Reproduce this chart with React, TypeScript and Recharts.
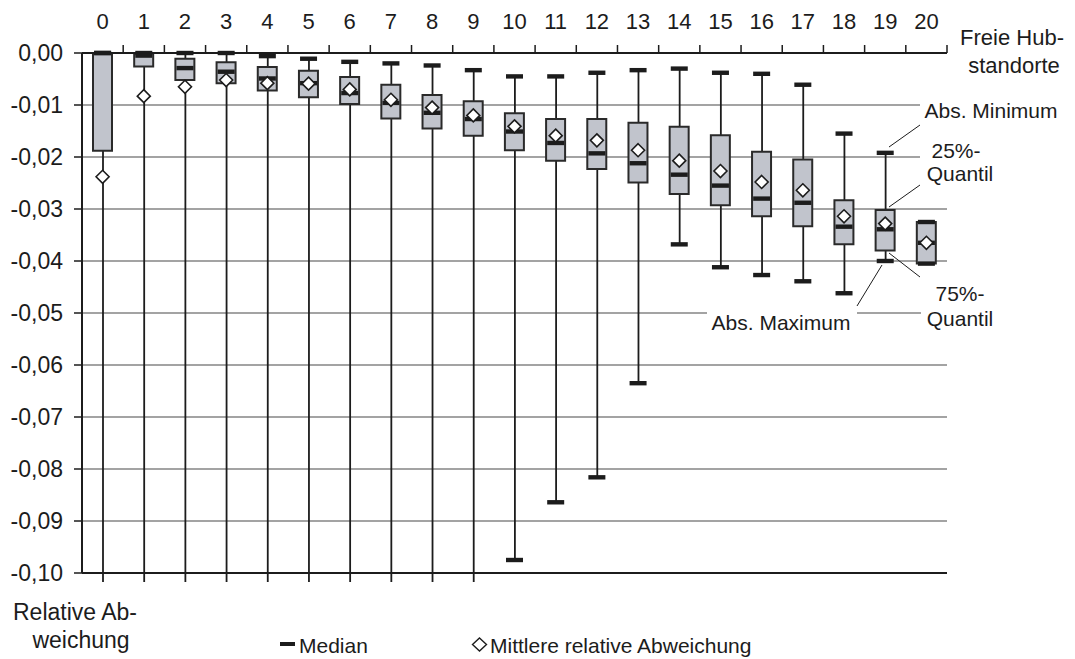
import React from "react";
import {
  ComposedChart,
  Bar,
  Line,
  XAxis,
  YAxis,
  CartesianGrid,
  ReferenceLine,
} from "recharts";

// number of free hub locations
const categories = [
  "0", "1", "2", "3", "4", "5", "6", "7", "8", "9", "10",
  "11", "12", "13", "14", "15", "16", "17", "18", "19", "20",
];

// relative deviation: closest to zero ("Abs. Minimum")
const absMinimum = [
  0, 0, 0, 0, -0.0006, -0.0011, -0.0017, -0.002, -0.0024, -0.0033, -0.0045,
  -0.0045, -0.0038, -0.0033, -0.003, -0.0038, -0.004, -0.0061, -0.0155, -0.0192, -0.0325,
];
const quantil25 = [
  0, 0, -0.0011, -0.0018, -0.0027, -0.0034, -0.0046, -0.0061, -0.0081, -0.0093, -0.0116,
  -0.0127, -0.0127, -0.0134, -0.0142, -0.0158, -0.019, -0.0205, -0.0283, -0.0302, -0.0325,
];
const median = [
  0, -0.0005, -0.0029, -0.0036, -0.0049, -0.0058, -0.0077, -0.0096, -0.0115, -0.0127, -0.0151,
  -0.0173, -0.0193, -0.0212, -0.0234, -0.0255, -0.028, -0.0288, -0.0334, -0.0339, -0.0365,
];
const quantil75 = [
  -0.0188, -0.0026, -0.0052, -0.0058, -0.0072, -0.0085, -0.0098, -0.0126, -0.0145, -0.0159, -0.0187,
  -0.0207, -0.0223, -0.0249, -0.0271, -0.0293, -0.0314, -0.0333, -0.0368, -0.038, -0.0405,
];
// null = below the axis range (whisker runs off the bottom)
const absMaximum: (number | null)[] = [
  null, null, null, null, null, null, null, null, null, null, -0.0975,
  -0.0864, -0.0816, -0.0635, -0.0368, -0.0412, -0.0427, -0.0439, -0.0462, -0.04, -0.0405,
];
const meanDeviation = [
  -0.0238, -0.0083, -0.0065, -0.0052, -0.0058, -0.0059, -0.007, -0.009, -0.0105, -0.012, -0.0141,
  -0.0159, -0.0168, -0.0187, -0.0207, -0.0227, -0.0248, -0.0264, -0.0314, -0.0328, -0.0365,
];

const yTicks = [0, -0.01, -0.02, -0.03, -0.04, -0.05, -0.06, -0.07, -0.08, -0.09, -0.1];
const Y_MIN = -0.1;

const WIDTH = 1075;
const HEIGHT = 659;
const MARGIN = { top: 1, right: 128, bottom: 86, left: 0 };
const Y_AXIS_WIDTH = 82;
const BAND = (WIDTH - MARGIN.left - MARGIN.right - Y_AXIS_WIDTH) / categories.length;
const FONT = '"Liberation Sans", Arial, Helvetica, sans-serif';
const INK = "#1c1c1c";
const GRID = "#858585";
const BOX_FILL = "#c1c4cc";

const data = categories.map((name, i) => ({
  name,
  absMin: absMinimum[i],
  absMax: absMaximum[i],
  median: median[i],
  mean: meanDeviation[i],
  box: [quantil75[i], quantil25[i]],
  whisker: [absMaximum[i] ?? Y_MIN, absMinimum[i]],
  clipped: absMaximum[i] == null,
}));

const fmt = (v: number) => v.toFixed(2).replace(".", ",");

function TopTick({ x, y, payload }: any) {
  const edge = x + BAND / 2;
  return (
    <g>
      <text x={x} y={y - 24} textAnchor="middle" fontSize={22} fill={INK} fontFamily={FONT}>
        {payload.value}
      </text>
      <line x1={edge} x2={edge} y1={y} y2={y - 8} stroke={INK} strokeWidth={1.5} />
    </g>
  );
}

function Whisker(props: any) {
  const { x, y, width, height, payload } = props;
  const cx = x + width / 2;
  const extra = payload.clipped ? 9 : 0;
  return <line x1={cx} x2={cx} y1={y} y2={y + height + extra} stroke={INK} strokeWidth={1.8} />;
}

const capDot = (p: any) =>
  p.cy == null ? (
    <g key={p.key} />
  ) : (
    <rect key={p.key} x={p.cx - 8.5} y={p.cy - 2.2} width={17} height={4.4} fill={INK} />
  );

const meanDot = (p: any) =>
  p.cy == null ? (
    <g key={p.key} />
  ) : (
    <polygon
      key={p.key}
      points={`${p.cx},${p.cy - 6.5} ${p.cx + 6.5},${p.cy} ${p.cx},${p.cy + 6.5} ${p.cx - 6.5},${p.cy}`}
      fill="#fff"
      stroke={INK}
      strokeWidth={1.6}
    />
  );

const txt = { fontFamily: FONT, fontSize: 21, fill: INK };
const title = { ...txt, fontSize: 23 };

export default function App() {
  return (
    <div style={{ position: "relative", width: WIDTH, height: HEIGHT, background: "#fff" }}>
      <style>{"body{margin:0}"}</style>
      <ComposedChart width={WIDTH} height={HEIGHT} data={data} margin={MARGIN}>
        <CartesianGrid xAxisId="main" vertical={false} stroke={GRID} strokeWidth={1.4} />
        <XAxis
          xAxisId="main"
          dataKey="name"
          orientation="top"
          height={52}
          interval={0}
          tickSize={0}
          tickMargin={0}
          tickLine={false}
          axisLine={{ stroke: INK, strokeWidth: 2 }}
          tick={<TopTick />}
        />
        <XAxis xAxisId="w" dataKey="name" hide />
        <YAxis
          domain={[Y_MIN, 0]}
          ticks={yTicks}
          interval={0}
          width={Y_AXIS_WIDTH}
          tickFormatter={fmt}
          tickSize={8}
          tickMargin={11}
          tickLine={{ stroke: INK, strokeWidth: 1.5 }}
          axisLine={{ stroke: INK, strokeWidth: 2 }}
          tick={{ fontSize: 23, fill: INK, fontFamily: FONT }}
        />
        <ReferenceLine xAxisId="main" y={Y_MIN} stroke={INK} strokeWidth={2} />
        <Bar xAxisId="w" dataKey="whisker" barSize={2} shape={<Whisker />} isAnimationActive={false} />
        <Bar
          xAxisId="main"
          dataKey="box"
          barSize={19}
          fill={BOX_FILL}
          stroke="#2a2a2a"
          strokeWidth={2}
          isAnimationActive={false}
        />
        <Line xAxisId="main" dataKey="absMin" stroke="none" dot={capDot} activeDot={false} isAnimationActive={false} />
        <Line xAxisId="main" dataKey="absMax" stroke="none" dot={capDot} activeDot={false} isAnimationActive={false} />
        <Line xAxisId="main" dataKey="median" stroke="none" dot={capDot} activeDot={false} isAnimationActive={false} />
        <Line xAxisId="main" dataKey="mean" stroke="none" dot={meanDot} activeDot={false} isAnimationActive={false} />
      </ComposedChart>

      <svg
        width={WIDTH}
        height={HEIGHT}
        style={{ position: "absolute", left: 0, top: 0, pointerEvents: "none" }}
      >
        {/* label backgrounds cut the grid lines */}
        <rect x={920} y={95} width={155} height={28} fill="#fff" />
        <rect x={920} y={139} width={155} height={56} fill="#fff" />
        <rect x={921} y={282} width={154} height={52} fill="#fff" />
        <rect x={707} y={300} width={150} height={30} fill="#fff" />

        {/* leader lines */}
        <g stroke={INK} strokeWidth={1}>
          <line x1={889} y1={147} x2={920} y2={125} />
          <line x1={889} y1={207} x2={920} y2={185} />
          <line x1={889} y1={253} x2={920} y2={277} />
          <line x1={882} y1={265} x2={857} y2={306} />
        </g>

        <text x={1012} y={45} textAnchor="middle" {...title} fontSize={22}>Freie Hub-</text>
        <text x={1014} y={73} textAnchor="middle" {...title} fontSize={22}>standorte</text>
        <text x={991} y={118} textAnchor="middle" {...txt}>Abs. Minimum</text>
        <text x={956} y={158} textAnchor="middle" {...txt}>25%-</text>
        <text x={960} y={181} textAnchor="middle" {...txt}>Quantil</text>
        <text x={960} y={301} textAnchor="middle" {...txt}>75%-</text>
        <text x={960} y={326} textAnchor="middle" {...txt}>Quantil</text>
        <text x={781} y={330} textAnchor="middle" {...txt}>Abs. Maximum</text>

        <text x={75} y={620} textAnchor="middle" {...title}>Relative Ab-</text>
        <text x={81} y={648} textAnchor="middle" {...title}>weichung</text>

        {/* legend */}
        <rect x={280} y={642} width={15} height={4} fill={INK} />
        <text x={299} y={653} {...txt}>Median</text>
        <polygon points="479.5,638 486.5,644.5 479.5,651 472.5,644.5" fill="#fff" stroke={INK} strokeWidth={1.4} />
        <text x={490} y={653} {...txt}>Mittlere relative Abweichung</text>
      </svg>
    </div>
  );
}
